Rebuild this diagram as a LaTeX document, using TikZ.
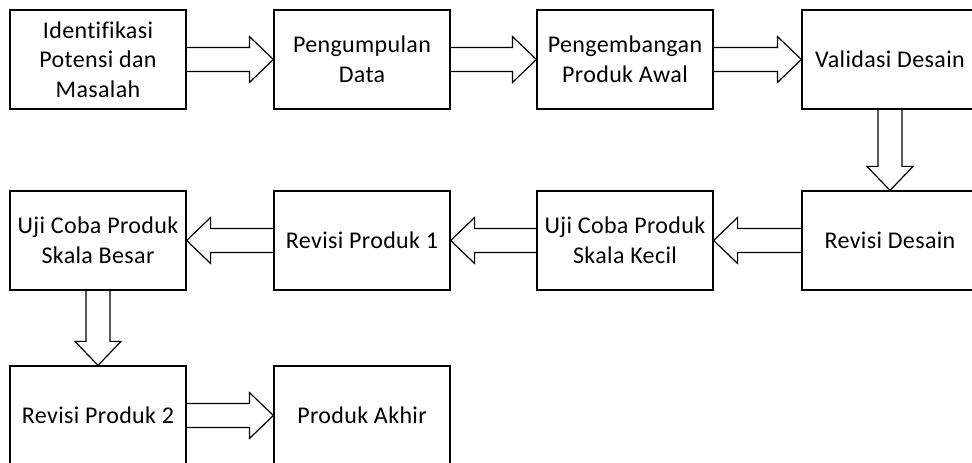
\documentclass[tikz,border=0pt]{standalone}
\usepackage{fontspec}
\setmainfont[Ligatures=NoCommon, LetterSpace=1.5]{Carlito}
\usetikzlibrary{calc}
\tikzset{
  box/.style={draw=black, line width=0.9pt, minimum width=132pt, minimum height=74.25pt,
    inner sep=0pt, align=center, font=\fontsize{18}{22.2}\selectfont},
  blkarrow/.style={draw=black, line width=0.9pt, line join=miter}
}
\newcommand{\blockarrow}[2]{%
  \coordinate (s) at (#1);
  \coordinate (t) at (#2);
  \coordinate (h) at ($(t)!18pt!(s)$);
  \draw[blkarrow] ($(s)!9pt!90:(t)$) -- ($(h)!9pt!-90:(s)$) -- ($(h)!17.25pt!-90:(s)$)
    -- (t) -- ($(h)!17.25pt!90:(s)$) -- ($(h)!9pt!90:(s)$) -- ($(s)!9pt!-90:(t)$);
}
\begin{document}
\begin{tikzpicture}[x=0.75pt, y=-0.75pt]
\useasboundingbox (0,0) rectangle (972,463);
\node[box] (n1) at (98,59.5) {Identifikasi\\Potensi dan\\Masalah};
\node[box] (n2) at (362,59.5) {Pengumpulan\\Data};
\node[box] (n3) at (625,59.5) {Pengembangan\\Produk Awal};
\node[box] (n4) at (890,59.5) {Validasi Desain};
\node[box] (n5) at (890,240.5) {Revisi Desain};
\node[box] (n6) at (625,240.5) {Uji Coba Produk\\Skala Kecil};
\node[box] (n7) at (362,240.5) {Revisi Produk 1};
\node[box] (n8) at (98,240.5) {Uji Coba Produk\\Skala Besar};
\node[box] (n9) at (98,415.5) {Revisi Produk 2};
\node[box] (n10) at (362,415.5) {Produk Akhir};
\blockarrow{n1.east}{n2.west}
\blockarrow{n2.east}{n3.west}
\blockarrow{n3.east}{n4.west}
\blockarrow{n4.south}{n5.north}
\blockarrow{n5.west}{n6.east}
\blockarrow{n6.west}{n7.east}
\blockarrow{n7.west}{n8.east}
\blockarrow{n8.south}{n9.north}
\blockarrow{n9.east}{n10.west}
\end{tikzpicture}
\end{document}
